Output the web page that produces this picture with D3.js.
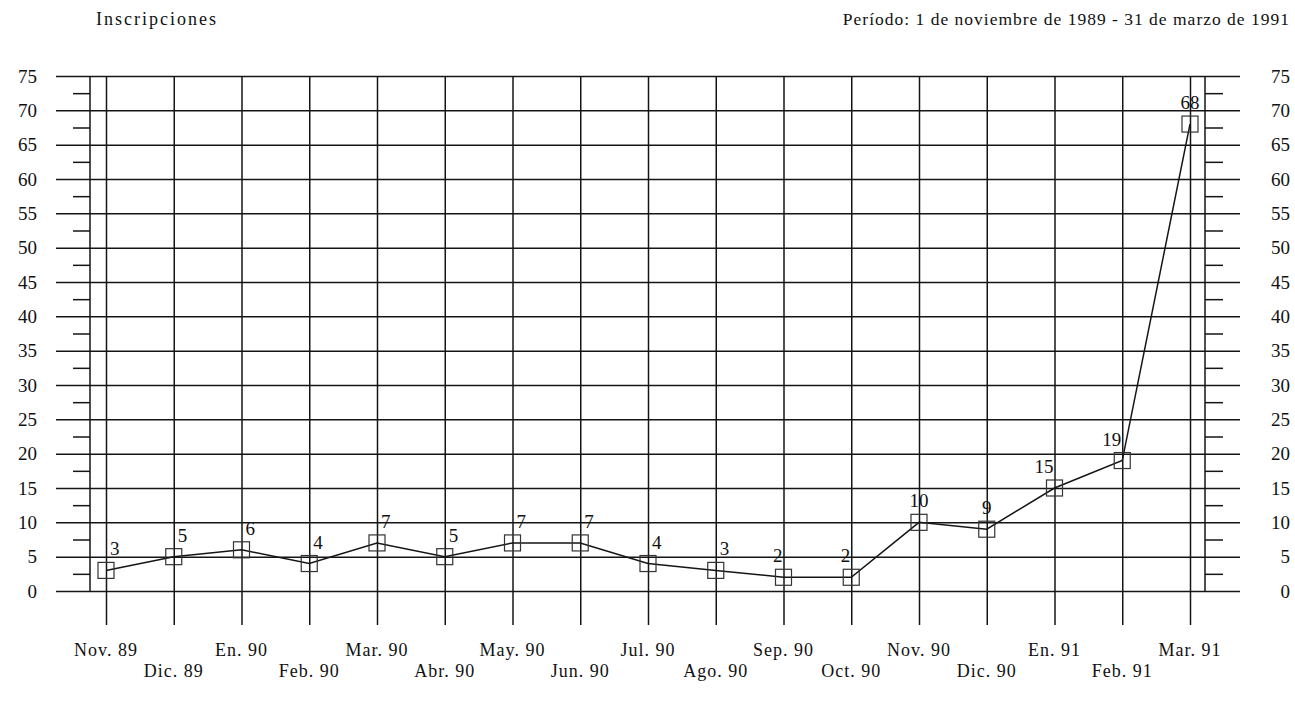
<html lang="es">
<head>
<style>
    body { margin: 0; background: #fff; }
    text { font-family: "Liberation Serif", "Times New Roman", serif; fill: #111; }
</style>
</head>
<body>
<script type='text/javascript' src='https://d3js.org/d3.v7.min.js'></script>
<script>
    var months = ["Nov. 89", "Dic. 89", "En. 90", "Feb. 90", "Mar. 90", "Abr. 90", "May. 90", "Jun. 90",
        "Jul. 90", "Ago. 90", "Sep. 90", "Oct. 90", "Nov. 90", "Dic. 90", "En. 91", "Feb. 91", "Mar. 91"];
    var inscripciones = [3, 5, 6, 4, 7, 5, 7, 7, 4, 3, 2, 2, 10, 9, 15, 19, 68];
    var yTicks = [0, 5, 10, 15, 20, 25, 30, 35, 40, 45, 50, 55, 60, 65, 70, 75];
    var yMinor = [2.5, 7.5, 12.5, 17.5, 22.5, 27.5, 32.5, 37.5, 42.5, 47.5, 52.5, 57.5, 62.5, 67.5, 72.5];
    var labelAnchor = ["start", "start", "start", "start", "start", "start", "start", "start",
        "start", "start", "end", "end", "middle", "middle", "end", "end", "middle"];

    var width = 1295, height = 713;
    var svg = d3.select("body").append("svg")
        .attr("width", width)
        .attr("height", height);

    var x = d3.scalePoint().domain(months).range([106, 1190]);
    var y = d3.scaleLinear().domain([0, 75]).range([591, 76]);

    var ink = "#151515";

    // horizontal grid
    svg.append("g")
        .attr("transform", "translate(56,0)")
        .call(d3.axisRight(y).tickValues(yTicks).tickSize(1184).tickFormat(""))
        .call(g => g.select(".domain").remove())
        .selectAll("line").attr("stroke", ink).attr("stroke-width", 1.5);

    // vertical grid
    svg.append("g")
        .attr("transform", "translate(0,76)")
        .call(d3.axisBottom(x).tickSize(549).tickFormat(""))
        .call(g => g.select(".domain").remove())
        .selectAll("line").attr("stroke", ink).attr("stroke-width", 1.5);

    // axis lines
    svg.append("line").attr("x1", 90).attr("x2", 90).attr("y1", y(75)).attr("y2", y(0))
        .attr("stroke", ink).attr("stroke-width", 1.5);
    svg.append("line").attr("x1", 1205).attr("x2", 1205).attr("y1", y(75)).attr("y2", y(0))
        .attr("stroke", ink).attr("stroke-width", 1.5);

    // minor ticks
    svg.append("g")
        .attr("transform", "translate(90,0)")
        .call(d3.axisLeft(y).tickValues(yMinor).tickSize(17).tickFormat(""))
        .call(g => g.select(".domain").remove())
        .selectAll("line").attr("stroke", ink).attr("stroke-width", 1.5);
    svg.append("g")
        .attr("transform", "translate(1205,0)")
        .call(d3.axisRight(y).tickValues(yMinor).tickSize(18).tickFormat(""))
        .call(g => g.select(".domain").remove())
        .selectAll("line").attr("stroke", ink).attr("stroke-width", 1.5);

    // y labels
    svg.append("g").selectAll("text")
        .data(yTicks).enter().append("text")
        .attr("x", 37).attr("y", d => y(d)).attr("dy", "0.35em")
        .attr("text-anchor", "end").attr("font-size", 19)
        .text(d => d);
    svg.append("g").selectAll("text")
        .data(yTicks).enter().append("text")
        .attr("x", 1290).attr("y", d => y(d)).attr("dy", "0.35em")
        .attr("text-anchor", "end").attr("font-size", 19)
        .text(d => d);

    // month labels, two staggered rows
    svg.append("g").selectAll("text")
        .data(months).enter().append("text")
        .attr("x", d => x(d))
        .attr("y", (d, i) => i % 2 == 0 ? 656 : 677)
        .attr("text-anchor", "middle").attr("font-size", 18)
        .attr("letter-spacing", 1)
        .text(d => d);

    // series line
    var line = d3.line()
        .x((d, i) => x(months[i]))
        .y(d => y(d));
    svg.append("path")
        .datum(inscripciones)
        .attr("fill", "none").attr("stroke", ink).attr("stroke-width", 1.5)
        .attr("d", line);

    // markers
    svg.append("g").selectAll("rect")
        .data(inscripciones).enter().append("rect")
        .attr("x", (d, i) => x(months[i]) - 8)
        .attr("y", d => y(d) - 8)
        .attr("width", 16).attr("height", 16)
        .attr("fill", "none").attr("stroke", "#333").attr("stroke-width", 1.2);

    // value labels
    svg.append("g").selectAll("text")
        .data(inscripciones).enter().append("text")
        .attr("x", (d, i) => {
            var a = labelAnchor[i];
            return x(months[i]) + (a == "start" ? 4 : a == "end" ? -1 : 0);
        })
        .attr("y", d => y(d) - 15)
        .attr("text-anchor", (d, i) => labelAnchor[i])
        .attr("font-size", 19)
        .text(d => d);

    // titles
    svg.append("text").attr("x", 96).attr("y", 25)
        .attr("font-size", 18).attr("letter-spacing", 2)
        .text("Inscripciones");
    svg.append("text").attr("x", 1290).attr("y", 25)
        .attr("text-anchor", "end").attr("font-size", 17.5).attr("letter-spacing", 1)
        .text("Período: 1 de noviembre de 1989 - 31 de marzo de 1991");
</script>
</body>
</html>
